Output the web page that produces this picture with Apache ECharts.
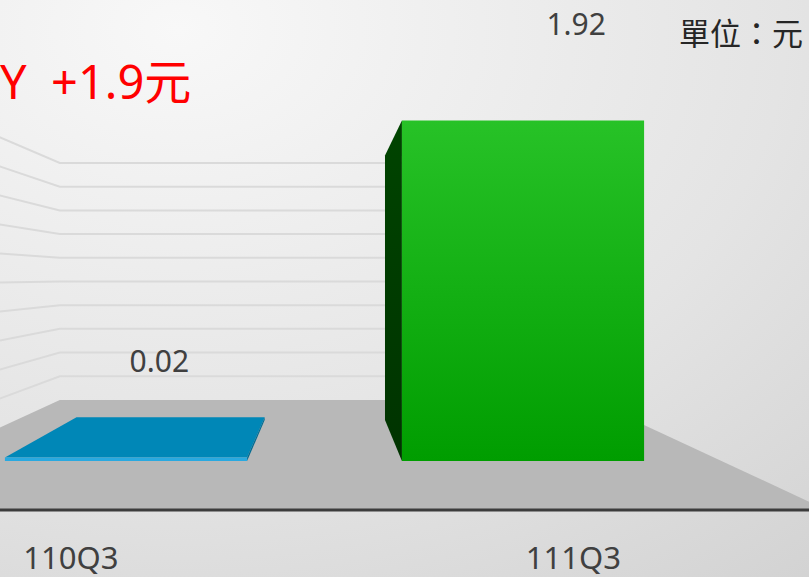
<!DOCTYPE html>
<html>
<head>
<meta charset="utf-8">
<style>
html,body{margin:0;padding:0;background:#e6e6e6;}
#chart{width:809px;height:577px;}
</style>
<script src="https://cdn.jsdelivr.net/npm/echarts@6/dist/echarts.min.js"></script>
</head>
<body>
<div id="chart"></div>
<script>
// ---- data ----
const categories = ['110Q3', '111Q3'];
const values = [0.02, 1.92];
const gridValues = [0.2, 0.4, 0.6, 0.8, 1.0, 1.2, 1.4, 1.6, 1.8, 2.0];
const unitText = '單位：元';
const noteText = 'Y  +1.9元';

// ---- styles / 3D projection settings ----
const VP = [326, 277];        // vanishing point (px)
const K_BAR = 0.223;          // bar depth
const K_WALL = 0.332;         // back wall depth
const K_FRONT = -0.266;       // floor front edge depth
const HALF = 0.305;           // half bar width (category units)
const FONT = '"Noto Sans", "Noto Sans CJK TC", sans-serif';
const barStyles = [
  { front: '#29a9e0', top: '#0087b7', side: '#006c93' },
  { front: { type: 'linear', x: 0, y: 0, x2: 0, y2: 1, colorStops: [{ offset: 0, color: '#27c227' }, { offset: 1, color: '#009d00' }] },
    top: '#3ad23a', side: { type: 'linear', x: 0, y: 0, x2: 0, y2: 1, colorStops: [{ offset: 0, color: '#004400' }, { offset: 1, color: '#003300' }] } }
];

function persp(p, k) {
  return [p[0] + k * (VP[0] - p[0]), p[1] + k * (VP[1] - p[1])];
}

const chart = echarts.init(document.getElementById('chart'), null, { renderer: 'svg' });

function renderStage(params, api) {
  const children = [];
  const bl = api.coord([-0.5, 0]);
  const br = api.coord([1.5, 0]);
  const floor = [persp(bl, K_WALL), persp(br, K_WALL), persp(br, K_FRONT), persp(bl, K_FRONT)];
  gridValues.forEach(function (v) {
    const l = api.coord([-0.5, v]);
    const r = api.coord([1.5, v]);
    const lb = persp(l, K_WALL), rb = persp(r, K_WALL), lf = persp(l, K_FRONT);
    children.push({ type: 'polyline', shape: { points: [lf, lb, rb] },
      style: { stroke: '#dadada', lineWidth: 2, fill: null } });
  });
  children.push({ type: 'polygon', shape: { points: floor }, style: { fill: '#b8b8b8' } });
  children.push({ type: 'line', shape: { x1: floor[3][0], y1: floor[3][1], x2: floor[2][0], y2: floor[2][1] },
    style: { stroke: '#3c3c3c', lineWidth: 3 } });
  categories.forEach(function (c, i) {
    const p = persp(api.coord([i, 0]), K_FRONT);
    children.push({ type: 'text', x: p[0] - 2, y: p[1] + 47,
      style: { text: c, fill: '#404040', font: '31px ' + FONT, align: 'center', verticalAlign: 'middle' } });
  });
  return { type: 'group', children: children };
}

function renderBar(params, api) {
  const i = api.value(0);
  const v = api.value(1);
  const st = barStyles[params.dataIndex];
  const fbl = api.coord([i - HALF, 0]);
  const ftr = api.coord([i + HALF, v]);
  const fbr = [ftr[0], fbl[1]];
  const ftl = [fbl[0], ftr[1]];
  const bbl = persp(fbl, K_BAR), bbr = persp(fbr, K_BAR), btl = persp(ftl, K_BAR), btr = persp(ftr, K_BAR);
  const children = [];
  if (ftr[1] > VP[1]) {
    children.push({ type: 'polygon', shape: { points: [ftl, ftr, btr, btl] }, style: { fill: st.top } });
  }
  if (fbl[0] > VP[0]) {
    children.push({ type: 'polygon', shape: { points: [fbl, ftl, btl, bbl] }, style: { fill: st.side } });
  }
  if (fbr[0] < VP[0]) {
    children.push({ type: 'polygon', shape: { points: [fbr, ftr, btr, bbr] }, style: { fill: st.side } });
  }
  children.push({ type: 'rect', shape: { x: ftl[0], y: ftl[1], width: ftr[0] - ftl[0], height: Math.max(fbl[1] - ftl[1], 2.5) },
    style: { fill: st.front } });
  const top = api.coord([i, v]);
  children.push({ type: 'text', x: top[0] * 1.05 + 27, y: top[1] - 97,
    style: { text: v.toFixed(2), fill: '#404040', font: '30px ' + FONT, align: 'center', verticalAlign: 'middle' } });
  return { type: 'group', children: children };
}

const option = {
  animation: false,
  backgroundColor: {
    type: 'radial', x: 0.22, y: 0.05, r: 1.25,
    colorStops: [{ offset: 0, color: '#f8f8f8' }, { offset: 0.6, color: '#e4e4e4' }, { offset: 1, color: '#d2d2d2' }]
  },
  grid: { left: 0, right: 0, top: 0, bottom: 116 },
  xAxis: { type: 'value', min: -0.3174, max: 1.7204, show: false },
  yAxis: { type: 'value', min: 0, max: 2.6, show: false },
  graphic: [
    { type: 'text', right: 6, top: 17, style: { text: unitText, fill: '#262626', font: '31px ' + FONT } },
    { type: 'text', left: 0, top: 57, style: { text: noteText, fill: '#ff0000', font: '47px ' + FONT } }
  ],
  series: [
    { type: 'custom', renderItem: renderStage, data: [[0, 0]], silent: true, z: 1, clip: false },
    { type: 'custom', renderItem: renderBar, data: values.map(function (v, i) { return [i, v]; }), z: 2, clip: false }
  ]
};
chart.setOption(option);
</script>
</body>
</html>
